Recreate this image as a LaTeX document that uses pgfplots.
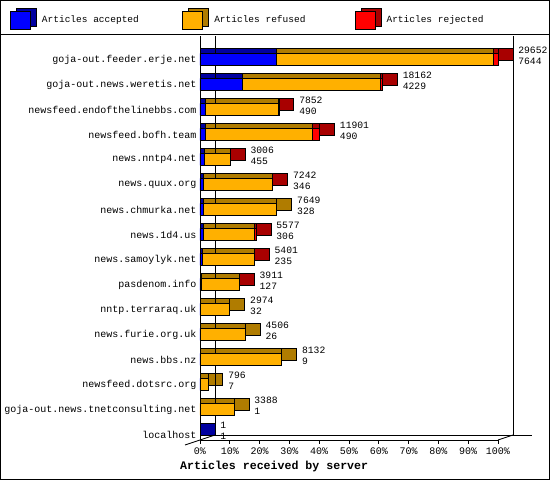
\documentclass[border=0pt]{standalone}
\usepackage{fontspec}
\setmainfont{Liberation Mono}
\setmonofont{Liberation Mono}
\usepackage{pgfplots}
\usepackage{pgfplotstable}
\pgfplotsset{compat=1.18}

\definecolor{accfront}{HTML}{0000FF}
\definecolor{accdark}{HTML}{0000A0}
\definecolor{reffront}{HTML}{FFB000}
\definecolor{refdark}{HTML}{B07C00}
\definecolor{rejfront}{HTML}{FF0000}
\definecolor{rejdark}{HTML}{A80000}

% share of the largest feed (29652 articles = 100%), top bar first
% acc/ref/rej in percent, sr/so/sb = depth of the side face (5% = 15px)
\pgfplotstableread{
idx acc   ref   rej  sr so sb total accn
15  25.78 72.54 1.68 5  0  0  29652 7644
14  14.26 46.31 0.67 5  0  0  18162 4229
13  1.65  24.78 0.05 5  0  0  7852  490
12  1.65  35.92 2.56 5  0  0  11901 490
11  1.53  8.59  0.02 5  0  0  3006  455
10  1.17  23.21 0.05 5  0  0  7242  346
9   1.11  24.69 0    0  5  0  7649  328
8   1.03  17.27 0.51 5  0  0  5577  306
7   0.79  17.39 0.03 5  0  0  5401  235
6   0.43  12.74 0.02 5  0  0  3911  127
5   0.11  9.92  0    0  5  0  2974  32
4   0.09  15.11 0    0  5  0  4506  26
3   0.03  27.39 0    0  5  0  8132  9
2   0.02  2.66  0    0  5  0  796   7
1   0.00  11.42 0    0  5  0  3388  1
0   0.00  0     0    0  0  5  1     1
}\data

\pgfplotsset{
  servers/.style={
    width=298pt, height=404pt, scale only axis,
    xbar stacked, bar width=12pt,
    xmin=0, xmax=100, ymin=-0.22, ymax=15.94,
    clip=false,
  },
  face/.style={draw=black, line width=0.8pt},
  % total and accepted count right of the side face
  sidelabel/.style={
    nodes near coords={\pgfplotspointmeta\\\pgfmathprintnumber[fixed,precision=0,1000 sep={},assume math mode=true]{\accn}},
    point meta=explicit symbolic,
    visualization depends on={\thisrow{accn}\as\accn},
    every node near coord/.append style={anchor=west, align=left, inner sep=0pt,
      text=black, xshift=12.5pt, yshift=-1.25pt,
      font=\ttfamily\fontsize{9.7}{11.5}\selectfont}},
}

\begin{document}
\begin{tikzpicture}
\useasboundingbox (0,0) rectangle (550pt,480pt);

% back copy: top and side faces, wall lines, counts
\begin{axis}[servers, hide axis, at={(200pt,45pt)}, anchor=south west]
  \draw[line width=0.8pt] ([xshift=15pt]axis description cs:0,0) -- ([xshift=15pt,yshift=-5pt]axis description cs:0,1);
  \draw[line width=0.8pt] ([xshift=15pt]axis description cs:1,0) -- ([xshift=15pt,yshift=-5pt]axis description cs:1,1);
  \draw[line width=0.8pt] ([xshift=15pt]axis description cs:0,0) -- ([xshift=34pt]axis description cs:1,0);
  \draw[line width=0.8pt] ([xshift=-15pt,yshift=-10pt]axis description cs:0,0) -- ([xshift=15pt]axis description cs:0,0);
  \draw[line width=0.8pt] ([yshift=-5pt]axis description cs:1,0) -- ([xshift=15pt]axis description cs:1,0);
  \addplot[face, fill=accdark] table[x=acc, y=idx] {\data};
  \addplot[face, fill=refdark] table[x=ref, y=idx] {\data};
  \addplot[face, fill=rejdark] table[x=rej, y=idx] {\data};
  \addplot[face, fill=rejdark, sidelabel] table[x=sr, y=idx, meta=total] {\data};
  \addplot[face, fill=refdark, sidelabel] table[x=so, y=idx, meta=total] {\data};
  \addplot[face, fill=accdark, sidelabel] table[x=sb, y=idx, meta=total] {\data};
\end{axis}

% front faces and axes
\begin{axis}[servers, at={(200pt,40pt)}, anchor=south west,
    axis lines*=left,
    axis line style={-, line width=0.8pt},
    every outer x axis line/.append style={-},
    every outer y axis line/.append style={-},
    xtick={0,10,...,100},
    xticklabels={0\%,10\%,20\%,30\%,40\%,50\%,60\%,70\%,80\%,90\%,100\%},
    ytick={0,...,15},
    yticklabels={localhost,goja-out.news.tnetconsulting.net,newsfeed.dotsrc.org,news.bbs.nz,news.furie.org.uk,nntp.terraraq.uk,pasdenom.info,news.samoylyk.net,news.1d4.us,news.chmurka.net,news.quux.org,news.nntp4.net,newsfeed.bofh.team,newsfeed.endofthelinebbs.com,goja-out.news.weretis.net,goja-out.feeder.erje.net},
    tick align=outside, major tick length=4pt,
    ytick style={draw=none},
    xtick style={draw=black, line width=0.8pt},
    ticklabel style={font=\ttfamily\fontsize{10}{12}\selectfont},
    yticklabel style={xshift=4pt},
    xlabel={Articles received by server},
    xlabel style={font=\ttfamily\bfseries\fontsize{11.6}{13}\selectfont,
      at={(axis description cs:-0.0671,-0.0668)}, anchor=west, inner sep=0pt},
    legend columns=3,
    legend cell align=left,
    legend style={at={(axis description cs:-0.6376,1.0710)}, anchor=north west,
      draw=none, fill=none, inner sep=0pt, column sep=0pt,
      font=\ttfamily\fontsize{9.5}{11}\selectfont,
      /tikz/every odd column/.append style={column sep=3pt},
      /tikz/every even column/.append style={column sep=8.5pt}},
  ]
  \addplot[face, fill=accfront,
    legend image code/.code={
      \draw[line width=0.8pt, fill=accdark] (6pt,-6pt) rectangle (26pt,12pt);
      \draw[line width=0.8pt, fill=accfront] (0pt,-9pt) rectangle (20pt,9pt);}]
    table[x=acc, y=idx] {\data};
  \addlegendentry{\makebox[130pt][l]{Articles accepted}}
  \addplot[face, fill=reffront,
    legend image code/.code={
      \draw[line width=0.8pt, fill=refdark] (6pt,-6pt) rectangle (26pt,12pt);
      \draw[line width=0.8pt, fill=reffront] (0pt,-9pt) rectangle (20pt,9pt);}]
    table[x=ref, y=idx] {\data};
  \addlegendentry{\makebox[130pt][l]{Articles refused}}
  \addplot[face, fill=rejfront,
    legend image code/.code={
      \draw[line width=0.8pt, fill=rejdark] (6pt,-6pt) rectangle (26pt,12pt);
      \draw[line width=0.8pt, fill=rejfront] (0pt,-9pt) rectangle (20pt,9pt);}]
    table[x=rej, y=idx] {\data};
  \addlegendentry{\makebox[130pt][l]{Articles rejected}}
\end{axis}

\draw[line width=1pt] (0.5pt,0.5pt) rectangle (549.5pt,479.5pt);
\draw[line width=1pt] (0pt,445pt) -- (550pt,445pt);
\end{tikzpicture}
\end{document}
